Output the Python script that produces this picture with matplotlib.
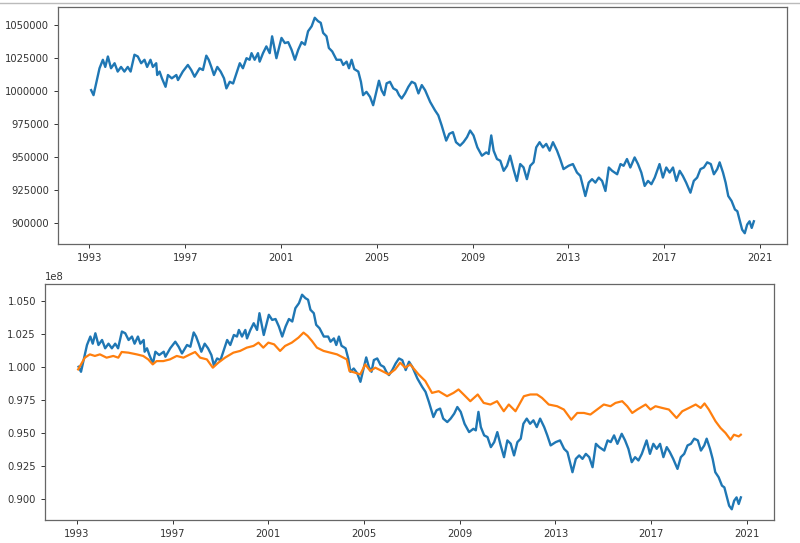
import datetime as dt
import matplotlib
matplotlib.use('Agg')
import matplotlib.pyplot as plt
import matplotlib.dates as mdates
from matplotlib.lines import Line2D
from matplotlib.ticker import MultipleLocator

# blue series: portfolio value, in thousands
blue_years = [
    1993.07, 1993.17, 1993.42, 1993.56, 1993.66, 1993.77, 1993.90, 1994.05, 1994.18, 1994.32,
    1994.46, 1994.60, 1994.72, 1994.88, 1995.02, 1995.16, 1995.30, 1995.41, 1995.55, 1995.65,
    1995.79, 1995.83, 1995.93, 1996.03, 1996.18, 1996.28, 1996.44, 1996.63, 1996.70, 1996.90,
    1997.11, 1997.25, 1997.39, 1997.60, 1997.74, 1997.88, 1997.98, 1998.09, 1998.20, 1998.34,
    1998.48, 1998.62, 1998.72, 1998.86, 1999.00, 1999.14, 1999.28, 1999.41, 1999.56, 1999.69,
    1999.77, 1999.90, 2000.04, 2000.11, 2000.25, 2000.39, 2000.53, 2000.63, 2000.81, 2001.02,
    2001.16, 2001.30, 2001.44, 2001.58, 2001.72, 2001.86, 2002.00, 2002.13, 2002.28, 2002.41,
    2002.55, 2002.66, 2002.76, 2002.90, 2003.00, 2003.14, 2003.32, 2003.50, 2003.60, 2003.74,
    2003.84, 2003.95, 2004.06, 2004.23, 2004.34, 2004.43, 2004.57, 2004.72, 2004.85, 2004.95,
    2005.09, 2005.20, 2005.31, 2005.41, 2005.55, 2005.69, 2005.83, 2005.93, 2006.04, 2006.18,
    2006.32, 2006.46, 2006.60, 2006.74, 2006.88, 2007.02, 2007.23, 2007.43, 2007.57, 2007.71,
    2007.90, 2008.03, 2008.18, 2008.31, 2008.48, 2008.62, 2008.77, 2008.90, 2009.04, 2009.20,
    2009.39, 2009.57, 2009.67, 2009.78, 2009.88, 2010.02, 2010.16, 2010.30, 2010.44, 2010.57,
    2010.71, 2010.85, 2010.99, 2011.13, 2011.27, 2011.41, 2011.55, 2011.66, 2011.80, 2011.94,
    2012.08, 2012.22, 2012.36, 2012.53, 2012.66, 2012.80, 2013.01, 2013.19, 2013.36, 2013.50,
    2013.64, 2013.71, 2013.85, 2013.99, 2014.13, 2014.27, 2014.41, 2014.55, 2014.69, 2014.83,
    2015.04, 2015.18, 2015.31, 2015.45, 2015.59, 2015.77, 2015.91, 2016.05, 2016.19, 2016.33,
    2016.47, 2016.61, 2016.81, 2016.95, 2017.09, 2017.23, 2017.37, 2017.51, 2017.65, 2017.78,
    2017.92, 2018.10, 2018.24, 2018.38, 2018.52, 2018.66, 2018.80, 2018.95, 2019.08, 2019.22,
    2019.32, 2019.46, 2019.57, 2019.68, 2019.82, 2019.96, 2020.06, 2020.15, 2020.26, 2020.37,
    2020.47, 2020.57, 2020.66, 2020.75]
blue_vals = [
    1000.5, 996.7, 1017.0, 1023.4, 1018.0, 1025.9, 1017.0, 1020.8, 1014.5, 1018.0,
    1014.5, 1018.0, 1014.5, 1027.2, 1025.9, 1020.8, 1023.4, 1018.0, 1023.4, 1018.0,
    1020.8, 1011.9, 1014.5, 1009.4, 1003.0, 1011.9, 1009.4, 1011.9, 1008.1, 1014.5,
    1019.5, 1015.7, 1010.6, 1017.0, 1015.7, 1026.5, 1023.4, 1018.0, 1011.9, 1018.0,
    1014.5, 1009.4, 1001.8, 1006.8, 1005.5, 1013.2, 1020.8, 1017.0, 1024.6, 1023.4,
    1028.4, 1023.4, 1028.4, 1022.0, 1028.4, 1033.5, 1028.4, 1041.1, 1024.6, 1039.9,
    1036.0, 1036.7, 1031.0, 1023.4, 1031.0, 1036.7, 1034.8, 1044.9, 1048.7, 1055.1,
    1052.5, 1051.3, 1043.7, 1041.1, 1032.3, 1029.7, 1023.4, 1023.4, 1019.5, 1022.0,
    1017.0, 1023.4, 1016.4, 1014.5, 1006.8, 996.7, 999.2, 995.4, 989.1, 996.7,
    1007.6, 1000.4, 996.7, 1005.6, 1006.8, 1001.8, 1000.4, 996.7, 994.2, 998.0,
    1003.0, 1006.8, 1005.5, 998.0, 1004.3, 1000.4, 991.6, 985.3, 981.5, 973.9,
    962.4, 967.5, 968.8, 961.2, 958.6, 961.2, 965.0, 970.0, 966.3, 957.3,
    951.0, 953.5, 952.3, 966.3, 954.8, 948.5, 947.2, 939.6, 943.4, 951.0,
    940.9, 932.0, 944.7, 942.2, 933.3, 943.4, 946.0, 957.3, 961.2, 957.3,
    959.9, 954.8, 961.2, 954.8, 948.5, 940.9, 943.4, 944.7, 938.3, 935.8,
    925.7, 920.6, 930.7, 933.3, 930.7, 934.5, 932.0, 924.4, 942.1, 939.6,
    937.0, 944.7, 943.4, 948.5, 942.1, 949.7, 944.7, 938.3, 928.2, 932.0,
    929.5, 934.5, 944.7, 934.5, 942.1, 938.3, 942.1, 932.0, 939.6, 935.8,
    930.7, 923.1, 932.0, 934.5, 940.9, 942.1, 946.0, 944.7, 937.0, 940.9,
    946.0, 938.3, 930.7, 920.6, 916.8, 910.4, 909.1, 902.8, 895.2, 892.5,
    899.0, 901.5, 896.5, 901.5]

# orange series, in units of 1e8
orange_years = [
    1993.05, 1993.33, 1993.54, 1993.75, 1993.96, 1994.24, 1994.52, 1994.73, 1994.87, 1995.15,
    1995.50, 1995.77, 1995.98, 1996.17, 1996.33, 1996.61, 1996.89, 1997.17, 1997.45, 1997.73,
    1997.94, 1998.15, 1998.43, 1998.68, 1998.91, 1999.19, 1999.54, 1999.82, 2000.10, 2000.38,
    2000.59, 2000.79, 2001.00, 2001.24, 2001.49, 2001.70, 2001.98, 2002.26, 2002.47, 2002.64,
    2002.82, 2003.03, 2003.31, 2003.59, 2003.87, 2004.14, 2004.28, 2004.39, 2004.63, 2004.84,
    2005.05, 2005.26, 2005.47, 2005.75, 2006.03, 2006.30, 2006.51, 2006.72, 2006.93, 2007.28,
    2007.56, 2007.84, 2008.12, 2008.47, 2008.74, 2008.95, 2009.16, 2009.44, 2009.75, 2010.00,
    2010.28, 2010.56, 2010.84, 2011.05, 2011.33, 2011.68, 2011.95, 2012.23, 2012.44, 2012.72,
    2013.07, 2013.35, 2013.66, 2013.91, 2014.19, 2014.46, 2014.74, 2015.02, 2015.30, 2015.51,
    2015.79, 2016.00, 2016.21, 2016.42, 2016.77, 2016.97, 2017.18, 2017.46, 2017.74, 2018.06,
    2018.30, 2018.58, 2018.86, 2019.07, 2019.23, 2019.41, 2019.69, 2019.90, 2020.11, 2020.32,
    2020.46, 2020.66, 2020.75]
orange_vals = [
    0.9985, 1.0074, 1.0099, 1.0087, 1.0099, 1.0074, 1.0087, 1.0074, 1.0117, 1.0112,
    1.0099, 1.0087, 1.0061, 1.0023, 1.0048, 1.0048, 1.0061, 1.0087, 1.0074, 1.0099,
    1.0117, 1.0074, 1.0061, 0.9998, 1.0036, 1.0074, 1.0112, 1.0125, 1.0150, 1.0163,
    1.0188, 1.0150, 1.0188, 1.0175, 1.0125, 1.0163, 1.0188, 1.0226, 1.0264, 1.0239,
    1.0201, 1.0150, 1.0125, 1.0112, 1.0099, 1.0074, 1.0061, 0.9973, 0.9960, 0.9947,
    1.0023, 0.9973, 0.9998, 0.9973, 0.9947, 0.9985, 1.0036, 0.9998, 1.0023, 0.9947,
    0.9897, 0.9807, 0.9820, 0.9782, 0.9807, 0.9833, 0.9795, 0.9744, 0.9795, 0.9731,
    0.9719, 0.9744, 0.9668, 0.9719, 0.9668, 0.9782, 0.9795, 0.9795, 0.9769, 0.9719,
    0.9706, 0.9681, 0.9604, 0.9655, 0.9655, 0.9643, 0.9681, 0.9719, 0.9706, 0.9731,
    0.9744, 0.9706, 0.9655, 0.9681, 0.9719, 0.9681, 0.9706, 0.9693, 0.9681, 0.9617,
    0.9668, 0.9693, 0.9719, 0.9693, 0.9727, 0.9681, 0.9592, 0.9541, 0.9503, 0.9452,
    0.9490, 0.9477, 0.9490]

tick_years = list(range(1993, 2022, 4))


def to_date(y):
    yr = int(y)
    return dt.datetime(yr, 1, 1) + dt.timedelta(days=(y - yr) * 365.25)


blue_dates = [to_date(y) for y in blue_years]
orange_dates = [to_date(y) for y in orange_years]

plt.rcParams['font.size'] = 7.2

fig = plt.figure(figsize=(8, 5.43), dpi=100)
fig.add_artist(Line2D([0, 1], [1 - 2.5 / 543, 1 - 2.5 / 543], color='#bbbbbb', lw=1))

ax1 = fig.add_axes([58 / 800, 1 - 244 / 543, 729 / 800, 237 / 543])
ax2 = fig.add_axes([45 / 800, 1 - 520 / 543, 729 / 800, 236 / 543])

ax1.plot(blue_dates, [v * 1000 for v in blue_vals], color='#1f77b4', lw=1.7)
ax1.yaxis.set_major_locator(MultipleLocator(25000))
ax1.ticklabel_format(axis='y', style='plain', useOffset=False)

ax2.plot(blue_dates, [v * 100000 for v in blue_vals], color='#1f77b4', lw=1.7)
ax2.plot(orange_dates, [v * 1e8 for v in orange_vals], color='#ff7f0e', lw=1.6)
ax2.yaxis.set_major_locator(MultipleLocator(2.5e6))

for ax in (ax1, ax2):
    ax.set_xticks([dt.datetime(y, 1, 1) for y in tick_years])
    ax.xaxis.set_major_formatter(mdates.DateFormatter('%Y'))
    ax.tick_params(length=3, width=0.7, colors='#333333', labelcolor='#333333')
    for s in ax.spines.values():
        s.set_color('#666666')
        s.set_linewidth(0.9)

ax2.yaxis.get_offset_text().set_color('#333333')

plt.savefig('out.png', dpi=100)
